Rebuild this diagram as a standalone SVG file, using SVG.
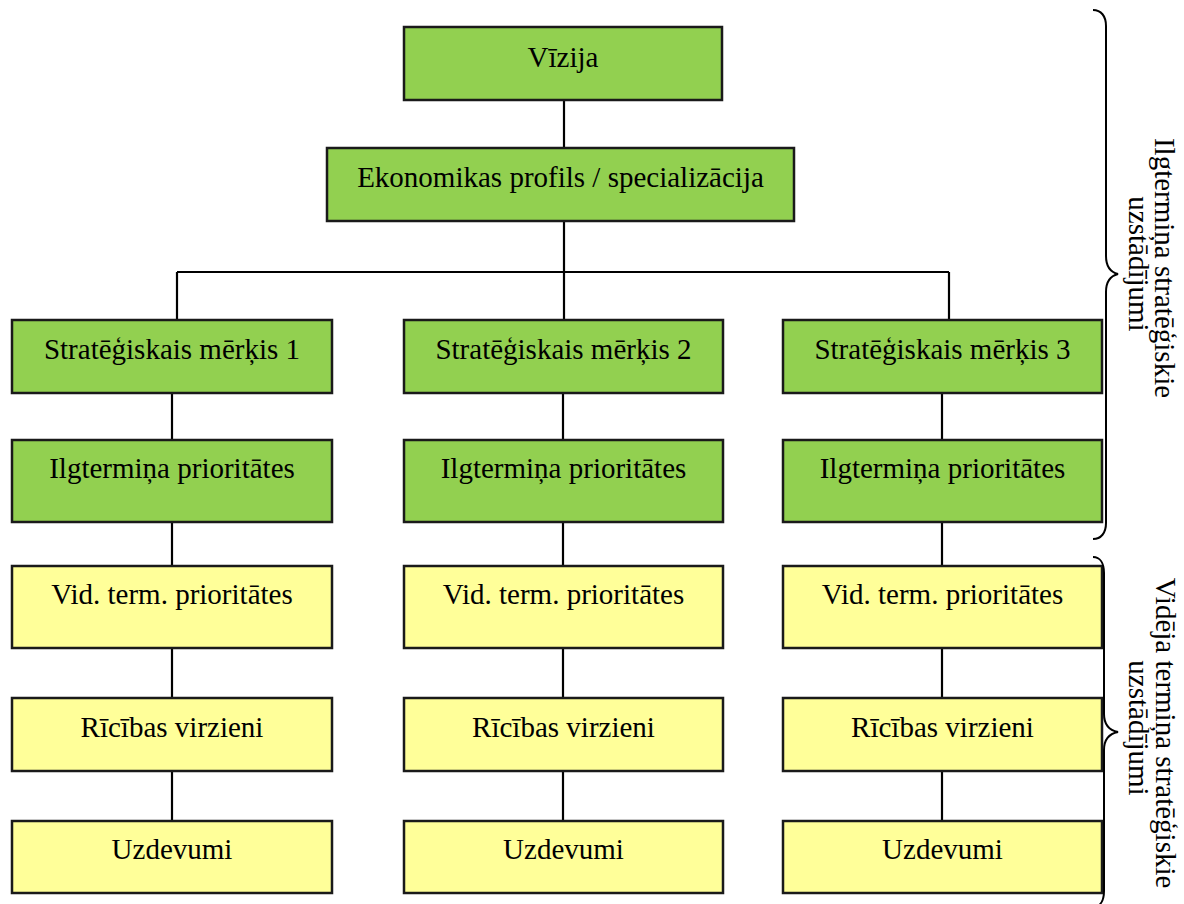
<svg xmlns="http://www.w3.org/2000/svg" width="1184" height="904" viewBox="0 0 1184 904">
<style>
.g{fill:#92D050;stroke:#1a1a1a;stroke-width:2.5}
.y{fill:#FFFF99;stroke:#1a1a1a;stroke-width:2.5}
.t{font-family:"Liberation Serif","Times New Roman",serif;font-size:29px;fill:#000;text-anchor:middle}
.c{stroke:#000;stroke-width:2.2;fill:none}
.b{stroke:#000;stroke-width:2;fill:none}
</style>
<rect width="1184" height="904" fill="#fff"/>
<g id="connectors">
<path class="c" d="M564 100V148M564 221V272M177 272H949M177 272V320M564 272V320M949 272V320"/>
<path class="c" d="M172 393V440M172 522V566M172 648V698M172 771V821"/>
<path class="c" d="M563 393V440M563 522V566M563 648V698M563 771V821"/>
<path class="c" d="M942 393V440M942 522V566M942 648V698M942 771V821"/>
</g>
<g id="vizija"><rect class="g" x="404" y="27" width="318" height="73"/><text class="t" x="563" y="67">Vīzija</text></g>
<g id="ekonomikas"><rect class="g" x="327" y="148" width="467" height="73"/><text class="t" x="560.5" y="187">Ekonomikas profils / specializācija</text></g>
<g id="merkis1"><rect class="g" x="12" y="320" width="320" height="73"/><text class="t" x="172" y="359">Stratēģiskais mērķis 1</text></g>
<g id="merkis2"><rect class="g" x="404" y="320" width="319" height="73"/><text class="t" x="563.5" y="359">Stratēģiskais mērķis 2</text></g>
<g id="merkis3"><rect class="g" x="783" y="320" width="319" height="73"/><text class="t" x="942.5" y="359">Stratēģiskais mērķis 3</text></g>
<g id="ilgt1"><rect class="g" x="12" y="440" width="320" height="82"/><text class="t" x="172" y="478">Ilgtermiņa prioritātes</text></g>
<g id="ilgt2"><rect class="g" x="404" y="440" width="319" height="82"/><text class="t" x="563.5" y="478">Ilgtermiņa prioritātes</text></g>
<g id="ilgt3"><rect class="g" x="783" y="440" width="319" height="82"/><text class="t" x="942.5" y="478">Ilgtermiņa prioritātes</text></g>
<g id="vid1"><rect class="y" x="12" y="566" width="320" height="82"/><text class="t" x="172" y="604">Vid. term. prioritātes</text></g>
<g id="vid2"><rect class="y" x="404" y="566" width="319" height="82"/><text class="t" x="563.5" y="604">Vid. term. prioritātes</text></g>
<g id="vid3"><rect class="y" x="783" y="566" width="319" height="82"/><text class="t" x="942.5" y="604">Vid. term. prioritātes</text></g>
<g id="ric1"><rect class="y" x="12" y="698" width="320" height="73"/><text class="t" x="172" y="737">Rīcības virzieni</text></g>
<g id="ric2"><rect class="y" x="404" y="698" width="319" height="73"/><text class="t" x="563.5" y="737">Rīcības virzieni</text></g>
<g id="ric3"><rect class="y" x="783" y="698" width="319" height="73"/><text class="t" x="942.5" y="737">Rīcības virzieni</text></g>
<g id="uzd1"><rect class="y" x="12" y="821" width="320" height="72"/><text class="t" x="172" y="859">Uzdevumi</text></g>
<g id="uzd2"><rect class="y" x="404" y="821" width="319" height="72"/><text class="t" x="563.5" y="859">Uzdevumi</text></g>
<g id="uzd3"><rect class="y" x="783" y="821" width="319" height="72"/><text class="t" x="942.5" y="859">Uzdevumi</text></g>
<g id="brace-long">
<path class="b" d="M1093 10C1101 10 1106 16 1106 26V256C1106 266 1110 272 1118 274C1110 276 1106 282 1106 292V523C1106 533 1101 539 1093 539"/>
<text class="t" transform="translate(1155,268) rotate(90)">Ilgtermiņa stratēģiskie</text>
<text class="t" transform="translate(1129,264) rotate(90)">uzstādījumi</text>
</g>
<g id="brace-mid">
<path class="b" d="M1093 557C1100 557 1104 563 1104 573V714C1104 724 1108 730 1118 732C1108 734 1104 740 1104 750V891C1104 901 1100 907 1093 907"/>
<text class="t" transform="translate(1156,733) rotate(90)">Vidēja termiņa stratēģiskie</text>
<text class="t" transform="translate(1129,728) rotate(90)">uzstādījumi</text>
</g>
</svg>
